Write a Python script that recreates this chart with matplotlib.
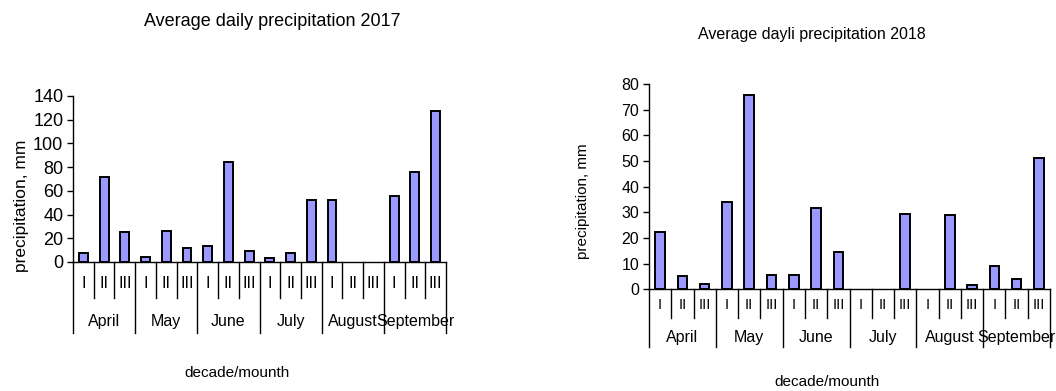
import matplotlib
matplotlib.use('Agg')
import matplotlib.pyplot as plt
import numpy as np

MONTHS = ['April', 'May', 'June', 'July', 'August', 'September']
DECADES = ['I', 'II', 'III']

PREC_2017 = [7.5, 71.5, 25.5, 4.5, 26.5, 11.5,
             13.5, 84, 9.5, 3.5, 7.5, 52,
             52, 0, 0, 56, 75.5, 127.5]
PREC_2018 = [22.5, 5, 2, 34, 75.7, 5.7,
             5.7, 31.5, 14.7, 0, 0, 29.3,
             0, 29, 1.6, 9, 4, 51]

BAR_COLOR = '#9999ff'
FONT = ['Liberation Sans', 'DejaVu Sans']

fig = plt.figure(figsize=(10.56, 3.91), dpi=100)


def draw_panel(rect, values, ymax, ystep, title, title_xy, ylabel, ylabel_xy,
               xlabel_xy, dec_len, mon_len, dec_y, mon_y, fs, dec_fs, mon_fs):
    ax = fig.add_axes(rect)
    x = np.arange(len(values))
    # empty decades get no outline
    lws = [1.4 if v > 0 else 0 for v in values]
    ax.bar(x, values, width=0.43, color=BAR_COLOR, edgecolor='black',
           linewidth=lws, zorder=3)
    ax.set_xlim(-0.5, len(values) - 0.5)
    ax.set_ylim(0, ymax)
    ax.set_yticks(np.arange(0, ymax + 1, ystep))
    ax.tick_params(axis='y', direction='out', length=4, width=1,
                   labelsize=fs, pad=3)
    for lbl in ax.get_yticklabels():
        lbl.set_family(FONT)
    ax.set_xticks([])
    for s in ('top', 'right'):
        ax.spines[s].set_visible(False)
    ax.spines['left'].set_linewidth(1)
    ax.spines['bottom'].set_linewidth(1)

    # category separators below the axis
    tr = ax.get_xaxis_transform()
    for b in range(len(values) + 1):
        depth = mon_len if b % 3 == 0 else dec_len
        ax.plot([b - 0.5, b - 0.5], [0, -depth], color='black', lw=1,
                transform=tr, clip_on=False)
    for i in range(len(values)):
        ax.text(i, -dec_y, DECADES[i % 3], transform=tr, ha='center',
                va='center', fontsize=dec_fs, family=FONT)
    for m, name in enumerate(MONTHS):
        ax.text(3 * m + 1, -mon_y, name, transform=tr, ha='center',
                va='center', fontsize=mon_fs, family=FONT)

    fig.text(title_xy[0] / 1056, 1 - title_xy[1] / 391, title, ha='center',
             va='center', fontsize=fs, family=FONT)
    fig.text(ylabel_xy[0] / 1056, 1 - ylabel_xy[1] / 391, ylabel,
             rotation=90, ha='center', va='center', fontsize=ylabel_xy[2],
             family=FONT)
    fig.text(xlabel_xy[0] / 1056, 1 - xlabel_xy[1] / 391, 'decade/mounth',
             ha='center', va='center', fontsize=11, family=FONT)
    return ax


draw_panel([73 / 1056, 1 - 262 / 391, (446 - 73) / 1056, 166 / 391],
           PREC_2017, 140, 20, 'Average daily precipitation 2017', (272, 22),
           'precipitation, mm', (22, 206, 12.5), (237, 373),
           0.217, 0.428, 0.127, 0.361, 13, 11.5, 11.5)

draw_panel([649 / 1056, 1 - 289.3 / 391, (1050 - 649) / 1056, 205.3 / 391],
           PREC_2018, 80, 10, 'Average dayli precipitation 2018', (812, 35),
           'precipitation, mm', (583, 201, 11), (827, 382),
           0.141, 0.283, 0.076, 0.233, 11.5, 10.5, 11.5)

fig.savefig('out.png', dpi=100)
